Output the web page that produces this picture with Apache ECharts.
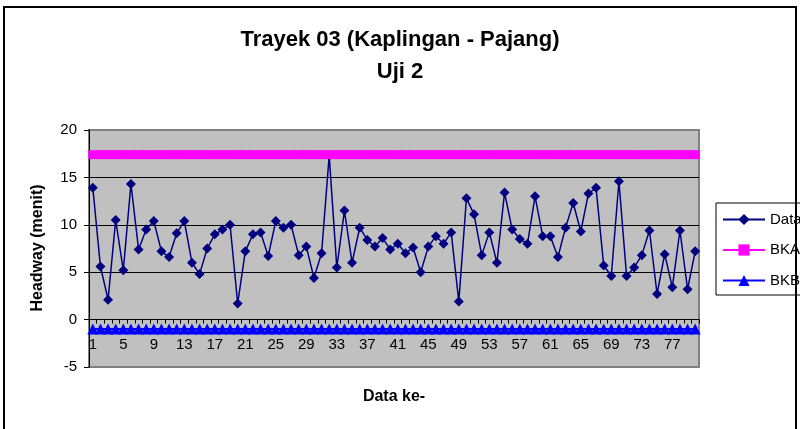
<!DOCTYPE html>
<html>
<head>
<meta charset="utf-8">
<script src="https://cdn.jsdelivr.net/npm/echarts@6/dist/echarts.min.js"></script>
<style>
html,body{margin:0;padding:0;background:#fff;}
#chart{width:800px;height:429px;}
</style>
</head>
<body>
<div id="chart"></div>
<script>
// data
var categories = ["1","2","3","4","5","6","7","8","9","10",
	"11","12","13","14","15","16","17","18","19","20",
	"21","22","23","24","25","26","27","28","29","30",
	"31","32","33","34","35","36","37","38","39","40",
	"41","42","43","44","45","46","47","48","49","50",
	"51","52","53","54","55","56","57","58","59","60",
	"61","62","63","64","65","66","67","68","69","70",
	"71","72","73","74","75","76","77","78","79","80"];
var headway = [13.9, 5.6, 2.1, 10.5, 5.2, 14.3, 7.4, 9.5, 10.4, 7.2,
	6.6, 9.1, 10.4, 6.0, 4.8, 7.5, 9.0, 9.5, 10.0, 1.7,
	7.2, 9.0, 9.2, 6.7, 10.4, 9.7, 10.0, 6.8, 7.7, 4.4,
	7.0, 17.3, 5.5, 11.5, 6.0, 9.7, 8.4, 7.7, 8.6, 7.4,
	8.0, 7.0, 7.6, 5.0, 7.7, 8.8, 8.0, 9.2, 1.9, 12.8,
	11.1, 6.8, 9.2, 6.0, 13.4, 9.5, 8.5, 8.0, 13.0, 8.8,
	8.8, 6.6, 9.7, 12.3, 9.3, 13.3, 13.9, 5.7, 4.6, 14.6,
	4.6, 5.5, 6.8, 9.4, 2.7, 6.9, 3.4, 9.4, 3.2, 7.2];
var bkaLevel = 17.4;
var bkbLevel = -1.0;
var bka = categories.map(function(){ return bkaLevel; });
var bkb = categories.map(function(){ return bkbLevel; });
var yTicks = {min: -5, max: 20, step: 5};

var font = "'Liberation Sans', Arial, sans-serif";
var gridTop = 130, gridBottom = 62, chartH = 429;
// category axis crosses the value axis at 0 (Excel style), labels go with it
var pxPerUnit = (chartH - gridTop - gridBottom) / (yTicks.max - yTicks.min);
var xAxisOffset = -(0 - yTicks.min) * pxPerUnit;

var chart = echarts.init(document.getElementById("chart"));
chart.setOption({
	animation: false,
	backgroundColor: "#fff",
	textStyle: {fontFamily: font, color: "#000"},
	title: {
		text: "Trayek 03 (Kaplingan - Pajang)\nUji 2",
		left: "center",
		top: 19,
		textStyle: {fontFamily: font, fontSize: 22, fontWeight: "bold", lineHeight: 32, color: "#000"}
	},
	legend: {
		data: ["Data", "BKA", "BKB"],
		orient: "vertical",
		left: 716,
		top: 203,
		itemWidth: 42,
		itemHeight: 14,
		itemGap: 15.5,
		padding: [9, 10, 7, 6],
		borderColor: "#000",
		borderWidth: 1,
		textStyle: {fontFamily: font, fontSize: 15, color: "#000"}
	},
	grid: {
		left: 89,
		right: 101,
		top: gridTop,
		bottom: gridBottom,
		show: true,
		backgroundColor: "#C0C0C0",
		borderColor: "#808080",
		borderWidth: 2
	},
	xAxis: {
		type: "category",
		data: categories,
		boundaryGap: true,
		offset: xAxisOffset,
		axisLine: {onZero: false, lineStyle: {color: "#000", width: 1}},
		axisTick: {show: true, interval: 0, length: 4, lineStyle: {color: "#000"}},
		axisLabel: {interval: 3, margin: 18, fontSize: 15, color: "#000", fontFamily: font},
		splitLine: {show: false}
	},
	yAxis: {
		type: "value",
		min: yTicks.min,
		max: yTicks.max,
		interval: yTicks.step,
		axisLine: {show: true, lineStyle: {color: "#000", width: 1}},
		axisTick: {show: true, length: 5, lineStyle: {color: "#000"}},
		axisLabel: {margin: 12, fontSize: 15, color: "#000", fontFamily: font},
		splitLine: {show: true, lineStyle: {color: ["#808080", "#000", "#000", "#000", "#000", "#808080"], width: 1}}
	},
	graphic: [
		{type: "rect", shape: {x: 4, y: 7, width: 792, height: 440}, style: {fill: "none", stroke: "#000", lineWidth: 2}, silent: true},
		{type: "text", x: 38, y: 248, rotation: Math.PI / 2,
			style: {text: "Headway (menit)", fontFamily: font, fontSize: 16, fontWeight: "bold", fill: "#000", align: "center", verticalAlign: "middle"}},
		{type: "text", x: 394, y: 397,
			style: {text: "Data ke-", fontFamily: font, fontSize: 16, fontWeight: "bold", fill: "#000", align: "center", verticalAlign: "middle"}}
	],
	series: [
		{
			name: "Data",
			type: "line",
			data: headway,
			symbol: "diamond",
			symbolSize: 10,
			showAllSymbol: true,
			lineStyle: {color: "#000080", width: 1.5},
			itemStyle: {color: "#000080"}
		},
		{
			name: "BKA",
			type: "line",
			data: bka,
			symbol: "rect",
			symbolSize: 9,
			showAllSymbol: true,
			lineStyle: {color: "#FF00FF", width: 2},
			itemStyle: {color: "#FF00FF"}
		},
		{
			name: "BKB",
			type: "line",
			data: bkb,
			symbol: "triangle",
			symbolSize: 11,
			showAllSymbol: true,
			lineStyle: {color: "#0000FF", width: 2},
			itemStyle: {color: "#0000FF"}
		}
	]
});
</script>
</body>
</html>
